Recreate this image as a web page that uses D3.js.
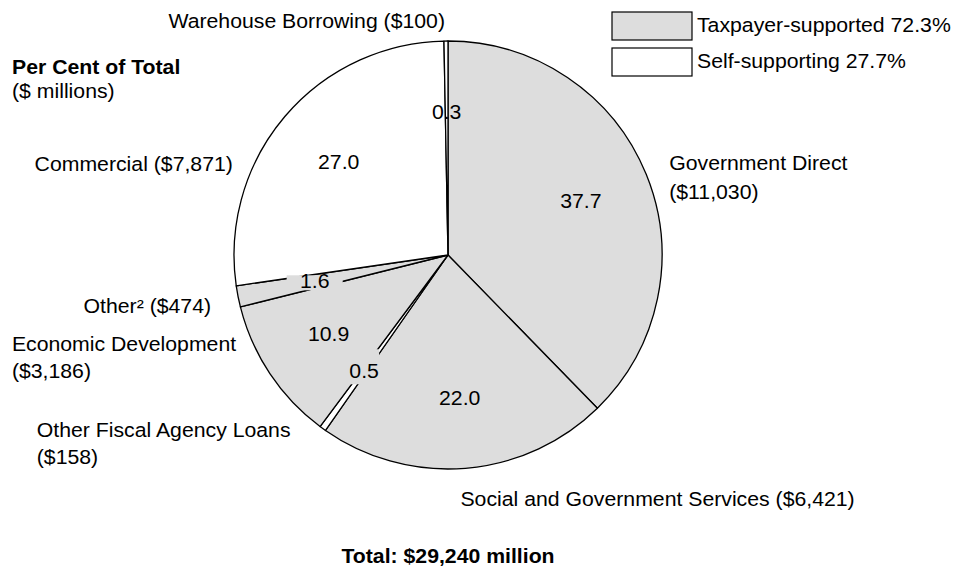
<!DOCTYPE html>
<html>
<head>
<meta charset="utf-8">
<script src="https://cdn.jsdelivr.net/npm/d3@7"></script>
<style>
  html, body { margin: 0; padding: 0; background: #fff; }
  svg { display: block; }
  text { font-family: "Liberation Sans", Arial, Helvetica, sans-serif; fill: #000; }
</style>
</head>
<body>
<svg id="chart" width="970" height="569"></svg>
<script>
// Debt by sector, per cent of total ($ millions)
const categories = ["Government Direct", "Social and Government Services", "Other Fiscal Agency Loans",
                    "Economic Development", "Other²", "Commercial", "Warehouse Borrowing"];
const shares  = [37.7, 22.0, 0.5, 10.9, 1.6, 27.0, 0.3];
const amounts = [11030, 6421, 158, 3186, 474, 7871, 100];
const groups  = ["Taxpayer-supported", "Taxpayer-supported", "Self-supporting", "Taxpayer-supported",
                 "Taxpayer-supported", "Self-supporting", "Self-supporting"];
const legendGroups = ["Taxpayer-supported", "Self-supporting"];
const legendShares = [72.3, 27.7];
const totalMillions = 29240;

// ---- layout & style ----
const W = 970, H = 569;
const cx = 448, cy = 255, R = 214;
const fontSize = 19.5, stretch = 1.09;
const shade = "#dddddd";
const fill = d3.scaleOrdinal().domain(legendGroups).range([shade, "#ffffff"]);
const money = d3.format("$,");
const pct = d3.format(".1f");

// outside label placement: offset from the slice's mid-arc point, anchor, two-line or not
const outerLabel = {
  "Government Direct":              { dx: 23,   dy: -4,  anchor: "start", split: true, gap: 29 },
  "Social and Government Services": { dx: -5,   dy: 38,  anchor: "start", split: false },
  "Other Fiscal Agency Loans":      { dx: -286, dy: 8,   anchor: "start", split: true, gap: 27 },
  "Economic Development":           { dx: -258, dy: -23, anchor: "start", split: true, gap: 27 },
  "Other²":                         { dx: -27,  dy: 17,  anchor: "end",   split: false },
  "Commercial":                     { dx: -52,  dy: 54,  anchor: "end",   split: false },
  "Warehouse Borrowing":            { dx: -1,   dy: -13, anchor: "end",   split: false }
};
// value labels sitting on a shaded patch: [left, top, right, bottom] padding around the text centre
const valueBg = {
  "Other²": [28, 6, 28, 9],
  "Other Fiscal Agency Loans": [15, 22, 15, 13]
};
const valueRadius = { "Other²": 0.635 };

const data = categories.map((c, i) => ({
  name: c, share: shares[i], amount: amounts[i], group: groups[i]
}));

const svg = d3.select("#chart");
svg.append("rect").attr("width", W).attr("height", H).attr("fill", "#fff");

function stretchedText(sel, x, y, anchor) {
  return sel.append("text")
    .attr("transform", `translate(${x},${y}) scale(${stretch},1)`)
    .attr("text-anchor", anchor)
    .style("font-size", fontSize + "px");
}

const pie = d3.pie().sort(null).value(d => d.share);
const arcs = pie(data);
const arc = d3.arc().innerRadius(0).outerRadius(R);

const g = svg.append("g").attr("transform", `translate(${cx},${cy})`);

g.selectAll("path.slice")
  .data(arcs)
  .join("path")
  .attr("class", "slice")
  .attr("d", arc)
  .attr("fill", d => fill(d.data.group))
  .attr("stroke", "#000")
  .attr("stroke-width", 1.3)
  .attr("stroke-linejoin", "round");

// value labels inside the slices
arcs.forEach(a => {
  const k = valueRadius[a.data.name] || 0.67;
  const [x, y] = d3.arc().innerRadius(R * k).outerRadius(R * k).centroid(a);
  const pad = valueBg[a.data.name];
  if (pad) {
    g.append("rect")
      .attr("x", x - pad[0]).attr("y", y - pad[1])
      .attr("width", pad[0] + pad[2]).attr("height", pad[1] + pad[3])
      .attr("fill", shade);
  }
  stretchedText(g, x, y, "middle")
    .attr("dy", "0.36em")
    .text(pct(a.data.share));
});

// category labels outside the pie
arcs.forEach(a => {
  const mid = (a.startAngle + a.endAngle) / 2;
  const px = cx + R * Math.sin(mid), py = cy - R * Math.cos(mid);
  const L = outerLabel[a.data.name];
  const lines = L.split
    ? [a.data.name, `(${money(a.data.amount)})`]
    : [`${a.data.name} (${money(a.data.amount)})`];
  lines.forEach((t, j) => {
    stretchedText(svg, px + L.dx, py + L.dy + j * (L.gap || 0), L.anchor).text(t);
  });
});

// heading
stretchedText(svg, 12, 74, "start").style("font-weight", "bold").text("Per Cent of Total");
stretchedText(svg, 12, 98, "start").text("($ millions)");

// legend
const lg = svg.append("g");
legendGroups.forEach((grp, i) => {
  const y0 = 12 + i * 36;
  lg.append("rect")
    .attr("x", 612).attr("y", y0).attr("width", 80).attr("height", 28)
    .attr("fill", fill(grp)).attr("stroke", "#000").attr("stroke-width", 1.2);
  stretchedText(lg, 697, y0 + 20, "start").text(`${grp} ${pct(legendShares[i])}%`);
});

// total
stretchedText(svg, cx, 563, "middle").style("font-weight", "bold")
  .text(`Total: ${money(totalMillions)} million`);
</script>
</body>
</html>
